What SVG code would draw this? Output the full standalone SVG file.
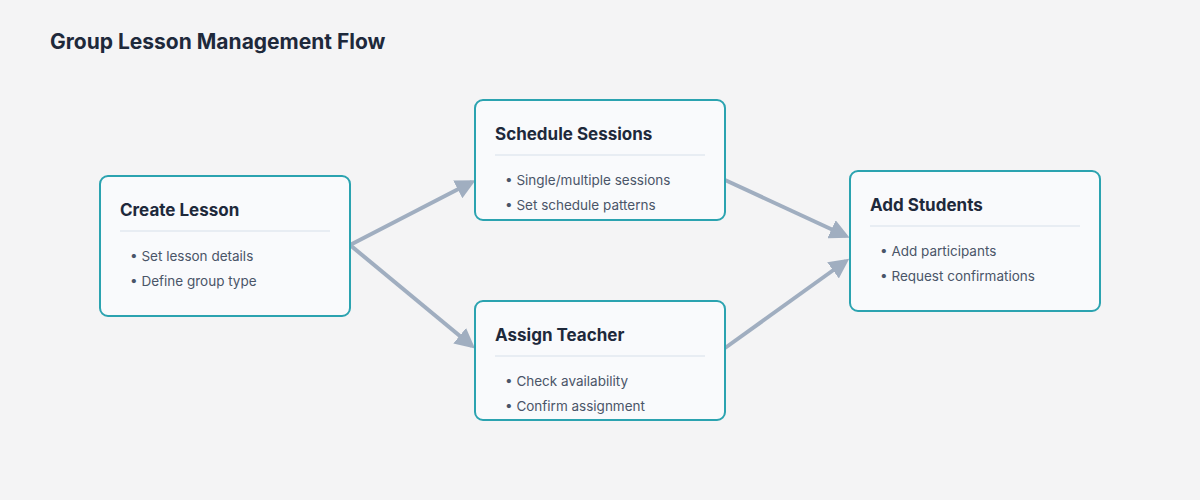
<svg xmlns="http://www.w3.org/2000/svg" width="1200" height="500" viewBox="0 0 1200 500">
<defs>
<style>
.box{fill:#f9fafc;stroke:#2ba3b0;stroke-width:2}
.t{font-family:Inter,"Liberation Sans",sans-serif;font-weight:700;font-size:17px;fill:#1e293b}
.b{font-family:Inter,"Liberation Sans",sans-serif;font-size:13.5px;fill:#4a5568}
.sep{stroke:#e2e8f0;stroke-width:1.5}
.c{stroke:#a0aec0;stroke-width:4;fill:none;marker-end:url(#ah)}
</style>
<marker id="ah" viewBox="0 0 10 10" refX="8" refY="5" markerWidth="5" markerHeight="5" orient="auto" markerUnits="strokeWidth"><path d="M0,0L10,5L0,10z" fill="#a0aec0"/></marker>
</defs>
<rect width="1200" height="500" fill="#f4f4f5"/>
<text x="50" y="49" font-family="Inter,'Liberation Sans',sans-serif" font-weight="700" font-size="21" fill="#1e293b">Group Lesson Management Flow</text>
<g id="connectors">
<line class="c" x1="350" y1="245" x2="472" y2="182"/>
<line class="c" x1="350" y1="245" x2="472" y2="346"/>
<line class="c" x1="725" y1="180" x2="846" y2="236"/>
<line class="c" x1="725" y1="348" x2="846" y2="261"/>
</g>
<g id="create">
<rect class="box" x="100" y="176" width="250" height="140" rx="8"/>
<text class="t" x="120" y="216">Create Lesson</text>
<line class="sep" x1="120" y1="231" x2="330" y2="231"/>
<text class="b" x="130" y="261">• Set lesson details</text>
<text class="b" x="130" y="286">• Define group type</text>
</g>
<g id="schedule">
<rect class="box" x="475" y="100" width="250" height="120" rx="8"/>
<text class="t" x="495" y="140">Schedule Sessions</text>
<line class="sep" x1="495" y1="155" x2="705" y2="155"/>
<text class="b" x="505" y="185">• Single/multiple sessions</text>
<text class="b" x="505" y="210">• Set schedule patterns</text>
</g>
<g id="assign">
<rect class="box" x="475" y="301" width="250" height="119" rx="8"/>
<text class="t" x="495" y="341">Assign Teacher</text>
<line class="sep" x1="495" y1="356" x2="705" y2="356"/>
<text class="b" x="505" y="386">• Check availability</text>
<text class="b" x="505" y="411">• Confirm assignment</text>
</g>
<g id="students">
<rect class="box" x="850" y="171" width="250" height="140" rx="8"/>
<text class="t" x="870" y="211">Add Students</text>
<line class="sep" x1="870" y1="226" x2="1080" y2="226"/>
<text class="b" x="880" y="256">• Add participants</text>
<text class="b" x="880" y="281">• Request confirmations</text>
</g>
</svg>
